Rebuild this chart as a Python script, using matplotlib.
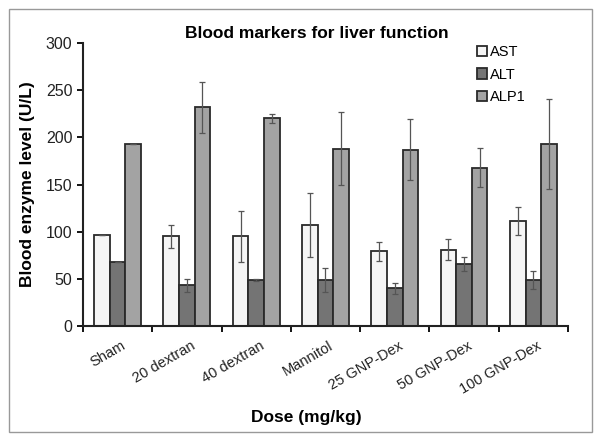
import matplotlib
matplotlib.use('Agg')
import matplotlib.pyplot as plt
import numpy as np
from matplotlib.patches import Rectangle

plt.rcParams['font.family'] = ['Liberation Sans', 'DejaVu Sans']

groups = ['Sham', '20 dextran', '40 dextran', 'Mannitol',
          '25 GNP-Dex', '50 GNP-Dex', '100 GNP-Dex']
ast = [96, 95, 95, 107, 79, 81, 111]
ast_err = [0, 12.5, 27, 34, 10, 11, 15]
alt = [68, 43, 49, 49, 40, 66, 49]
alt_err = [0, 6.5, 1, 13, 6, 7.5, 9.5]
alp1 = [193, 232, 220, 188, 187, 168, 193]
alp1_err = [0, 27, 4.5, 39, 32, 20.5, 48]

series = [('AST', ast, ast_err, '#f5f5f5'),
          ('ALT', alt, alt_err, '#747474'),
          ('ALP1', alp1, alp1_err, '#a3a3a3')]

fig = plt.figure(figsize=(6.01, 4.42), dpi=100)
ax = fig.add_axes([0.138, 0.2624, 0.807, 0.6403])

x = np.arange(len(groups))
w = 0.225
for i, (name, vals, errs, col) in enumerate(series):
    ax.bar(x + (i - 1) * w, vals, w, color=col, edgecolor='#2a2a2a',
           linewidth=1.3, label=name,
           yerr=errs, error_kw=dict(ecolor='#555555', elinewidth=0.9,
                                    capsize=2.5, capthick=0.9))

ax.set_xlim(-0.5, len(groups) - 0.5)
ax.set_ylim(0, 300)
ax.set_yticks(range(0, 301, 50))
ax.set_xticks(x + 0.05)
ax.set_xticklabels(groups, rotation=30, ha='right', rotation_mode='anchor')
ax.set_xticks(np.arange(-0.5, len(groups)), minor=True)
ax.tick_params(axis='x', which='major', length=0, pad=9, labelsize=10.5, colors='#222222')
ax.tick_params(axis='x', which='minor', length=4, width=1.3, direction='out')
ax.tick_params(axis='y', length=4, width=1.3, labelsize=11.5, labelcolor='#222222')

for s in ['top', 'right']:
    ax.spines[s].set_visible(False)
for s in ['left', 'bottom']:
    ax.spines[s].set_linewidth(1.5)
    ax.spines[s].set_color('#222222')

ax.set_ylabel('Blood enzyme level (U/L)', fontsize=12.5, fontweight='bold', labelpad=8)
ax.set_xlabel('Dose (mg/kg)', fontsize=12.5, fontweight='bold')
ax.xaxis.set_label_coords(0.46, -0.295)
fig.text(0.527, 0.925, 'Blood markers for liver function', fontsize=12.5,
         fontweight='bold', ha='center', va='center')

leg = ax.legend(loc='upper right', bbox_to_anchor=(0.94, 1.04), frameon=False,
                fontsize=10.5, handlelength=0.7, handleheight=0.7,
                handletextpad=0.2, labelspacing=0.6)

fig.patches.append(Rectangle((0.015, 0.022), 0.970, 0.958, transform=fig.transFigure,
                             fill=False, edgecolor='#999999', linewidth=1.0))

fig.savefig('out.png', dpi=100)
